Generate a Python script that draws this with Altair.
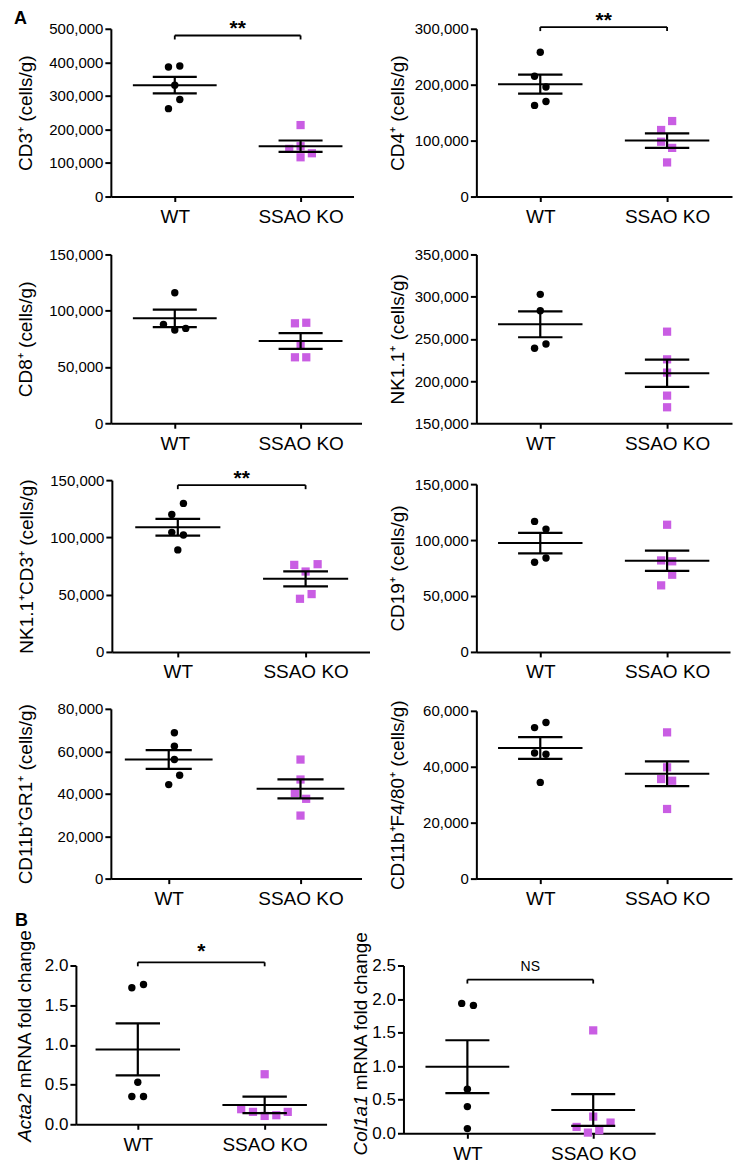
import altair as alt
import pandas as pd

FONT = "Liberation Sans, Arial, Helvetica, sans-serif"
PINK = "#C95DE3"
GROUPS = ["WT", "SSAO KO"]

# ---------------- data ----------------
CD3_WT = [386000, 389000, 332000, 289000, 262000]
CD3_WT_DX = [-0.05, 0.04, 0.0, 0.04, -0.05]
CD3_KO = [213000, 142000, 150000, 129000, 117000]
CD3_KO_DX = [0.0, -0.09, 0.0, 0.09, 0.0]
CD3_MEAN = [332000, 150000]
CD3_SEM = [24500, 17000]

CD4_WT = [258000, 215000, 196000, 163000, 170000]
CD4_WT_DX = [0.0, -0.045, 0.045, -0.045, 0.045]
CD4_KO = [135000, 119000, 98000, 87000, 61000]
CD4_KO_DX = [0.04, -0.047, -0.047, 0.04, 0.0]
CD4_MEAN = [201000, 100000]
CD4_SEM = [17000, 13000]

CD8_WT = [116000, 87900, 82800, 84300]
CD8_WT_DX = [0.0, -0.09, 0.0, 0.087]
CD8_KO = [88800, 89300, 69700, 58600, 58600]
CD8_KO_DX = [-0.045, 0.045, 0.0, -0.045, 0.045]
CD8_MEAN = [93200, 73000]
CD8_SEM = [7850, 7000]

NK_WT = [302700, 283300, 238800, 243900]
NK_WT_DX = [0.0, 0.0, -0.045, 0.045]
NK_KO = [258500, 225700, 210000, 182700, 168900]
NK_KO_DX = [0.0, 0.0, 0.0, 0.0, 0.0]
NK_MEAN = [267200, 209200]
NK_SEM = [15300, 16200]

NKT_WT = [129700, 120100, 104400, 102100, 89100]
NKT_WT_DX = [0.044, -0.047, -0.047, 0.044, 0.0]
NKT_KO = [76000, 76600, 70200, 46400, 50500]
NKT_KO_DX = [-0.089, 0.094, 0.0, -0.044, 0.047]
NKT_MEAN = [108800, 63800]
NKT_SEM = [7300, 6500]

CD19_WT = [116700, 109800, 80100, 83900]
CD19_WT_DX = [-0.045, 0.045, -0.045, 0.045]
CD19_KO = [113700, 81800, 81000, 69000, 59500]
CD19_KO_DX = [0.0, -0.047, 0.04, 0.04, -0.047]
CD19_MEAN = [97300, 81500]
CD19_SEM = [9200, 9000]

GR1_WT = [68700, 62400, 56100, 48700, 44300]
GR1_WT_DX = [0.043, 0.043, 0.043, 0.083, 0.0]
GR1_KO = [56100, 46700, 40400, 37600, 29700]
GR1_KO_DX = [0.0, 0.0, -0.043, 0.043, 0.0]
GR1_MEAN = [56100, 42300]
GR1_SEM = [4400, 4500]

F480_WT = [54000, 55800, 44900, 44500, 34400]
F480_WT_DX = [-0.045, 0.045, -0.045, 0.045, 0.0]
F480_KO = [52300, 39800, 35600, 35000, 24900]
F480_KO_DX = [0.0, 0.0, -0.047, 0.04, 0.0]
F480_MEAN = [46700, 37500]
F480_SEM = [3900, 4450]

ACTA2_WT = [1.72, 1.76, 0.53, 0.35, 0.35]
ACTA2_WT_DX = [-0.047, 0.045, 0.0, -0.047, 0.045]
ACTA2_KO = [0.63, 0.19, 0.156, 0.105, 0.114, 0.156]
ACTA2_KO_DX = [0.0, -0.185, -0.092, 0.0, 0.092, 0.182]
ACTA2_MEAN = [0.943, 0.244]
ACTA2_SEM = [0.327, 0.103]

COL_WT = [1.935, 1.905, 0.655, 0.397, 0.069]
COL_WT_DX = [-0.045, 0.048, 0.0, 0.0, 0.0]
COL_KO = [1.533, 0.248, 0.094, 0.159, 0.01, 0.045]
COL_KO_DX = [0.0, 0.0, -0.132, 0.138, -0.042, 0.048]
COL_MEAN = [0.992, 0.347]
COL_SEM = [0.394, 0.236]

# tick labels
TICKS_CD3 = [0, 100000, 200000, 300000, 400000, 500000]
TICKS_CD4 = [0, 100000, 200000, 300000]
TICKS_150 = [0, 50000, 100000, 150000]
TICKS_NK = [150000, 200000, 250000, 300000, 350000]
TICKS_80 = [0, 20000, 40000, 60000, 80000]
TICKS_60 = [0, 20000, 40000, 60000]
TICKS_2 = [0, 0.5, 1.0, 1.5, 2.0]
TICKS_25 = [0, 0.5, 1.0, 1.5, 2.0, 2.5]

# significance brackets
SIG_LABELS = ["**", "**", "**", "*", "NS"]
SIG_Y = [480000, 303000, 145600, 2.04, 2.29]

MEAN_HALF = 0.333
CAP_HALF = 0.175


def panel(title, wt, wt_dx, ko, ko_dx, mean, sem, ticks, fmt, ydom, lay,
          sig=None, extra=None, tick_font=15):
    pts = pd.DataFrame({
        "grp": [GROUPS[0]] * len(wt) + [GROUPS[1]] * len(ko),
        "g": [1] * len(wt) + [2] * len(ko),
        "dx": list(wt_dx) + list(ko_dx),
        "v": list(wt) + list(ko),
    })
    summ = pd.DataFrame({"grp": GROUPS, "g": [1, 2], "mean": mean, "sem": sem})
    xs = alt.Scale(domain=lay["xdom"], range=lay["xrange"], nice=False, zero=False)
    ys = alt.Scale(domain=ydom, range=lay["yrange"], nice=False, zero=False)
    xaxis = alt.Axis(values=[1, 2], title=None, grid=False, labelFlush=False,
                     labelExpr="datum.value == 1 ? 'WT' : 'SSAO KO'")
    yaxis = alt.Axis(values=ticks, format=fmt, title=title, grid=False,
                     labelFlush=False, offset=lay["yoff"],
                     minExtent=lay["ext"], maxExtent=lay["ext"],
                     titlePadding=lay["tp"], labelFontSize=tick_font)

    def X(f):
        return alt.X(f, type="quantitative", scale=xs, axis=xaxis)

    def Y(f):
        return alt.Y(f, type="quantitative", scale=ys, axis=yaxis)

    base_pts = alt.Chart(pts).transform_calculate(xp="datum.g + datum.dx")
    wt_layer = base_pts.transform_filter("datum.g == 1").mark_circle(
        size=55, color="black", opacity=1).encode(x=X("xp"), y=Y("v"))
    ko_layer = base_pts.transform_filter("datum.g == 2").mark_square(
        size=68, color=PINK, opacity=1).encode(x=X("xp"), y=Y("v"))

    sb = alt.Chart(summ).transform_calculate(
        m1=f"datum.g - {MEAN_HALF}", m2=f"datum.g + {MEAN_HALF}",
        c1=f"datum.g - {CAP_HALF}", c2=f"datum.g + {CAP_HALF}",
        hi="datum.mean + datum.sem", lo="datum.mean - datum.sem")
    mean_l = sb.mark_rule(color="black", strokeWidth=2).encode(
        x=X("m1"), x2="m2:Q", y=Y("mean"))
    cap_hi = sb.mark_rule(color="black", strokeWidth=2.2).encode(
        x=X("c1"), x2="c2:Q", y=Y("hi"))
    cap_lo = sb.mark_rule(color="black", strokeWidth=2.2).encode(
        x=X("c1"), x2="c2:Q", y=Y("lo"))
    vert = sb.mark_rule(color="black", strokeWidth=2.2).encode(
        x=X("g"), y=Y("lo"), y2="hi:Q")

    layers = [wt_layer, ko_layer, mean_l, cap_hi, cap_lo, vert]

    if sig is not None:
        lab, yv, dy, fsize, fweight = sig
        bdf = pd.DataFrame({"g": [1, 2], "y": [yv, yv], "label": [lab, lab]})
        bb = alt.Chart(bdf)
        hline = bb.transform_aggregate(
            g1="min(g)", g2="max(g)", y="mean(y)").mark_rule(
            color="black", strokeWidth=1.8).encode(
            x=X("g1"), x2="g2:Q", y=Y("y"))
        ends = bb.mark_rule(color="black", strokeWidth=1.8, y2Offset=4).encode(
            x=X("g"), y=Y("y"), y2="y:Q")
        txt = bb.transform_aggregate(
            gm="mean(g)", y="mean(y)", label="min(label)").mark_text(
            font=FONT, fontSize=fsize, fontWeight=fweight, color="black",
            baseline="alphabetic", align="center", dy=dy).encode(
            x=X("gm"), y=Y("y"), text="label:N")
        layers += [hline, ends, txt]

    if extra:
        layers += extra

    return alt.layer(*layers).properties(width=lay["w"], height=lay["h"])


def letter(t, x, y):
    return alt.Chart(pd.DataFrame({"t": [t]})).mark_text(
        font=FONT, fontSize=18, fontWeight="bold", color="black",
        align="left", baseline="alphabetic").encode(
        x=alt.value(x), y=alt.value(y), text="t:N")


def split_title(italic, rest, x, y_join):
    a = alt.Chart(pd.DataFrame({"t": [italic]})).mark_text(
        font=FONT, fontSize=19, fontStyle="italic", color="black",
        angle=270, align="right", baseline="bottom").encode(
        x=alt.value(x), y=alt.value(y_join), text="t:N")
    b = alt.Chart(pd.DataFrame({"t": [rest]})).mark_text(
        font=FONT, fontSize=19, color="black", dx=5,
        angle=270, align="left", baseline="bottom").encode(
        x=alt.value(x), y=alt.value(y_join), text="t:N")
    return [a, b]


def L(xrange, xdom, h, yrange, yoff, ext, tp, w):
    return dict(xrange=xrange, xdom=xdom, h=h, yrange=yrange, yoff=yoff,
                ext=ext, tp=tp, w=w)

WL, WR = 294, 329
lay1 = L([35, 278], [0.492, 2.421], 168, [168, 0], -35, 62, 13, WL)
lay2 = L([73, 329], [0.496, 2.512], 168, [168, 0], -73, 62, 7, WR)
lay3 = L([35, 286], [0.492, 2.484], 170, [170, 1], -35, 62, 13, WL)
lay4 = L([73, 329], [0.496, 2.512], 170, [170, 1], -73, 62, 7, WR)
lay5 = L([36, 294], [0.484, 2.5], 172, [172, 0], -36, 62, 13, WL)
lay6 = L([73, 327], [0.496, 2.496], 172, [172, 4], -73, 62, 7, WR)
lay7 = L([35, 286], [0.561, 2.463], 170, [170, 0], -35, 62, 13, WL)
lay8 = L([73, 329], [0.496, 2.512], 170, [170, 2], -73, 62, 7, WR)
lay9 = L([0, 251], [0.512, 2.488], 189, [189, 30], 0, 34, 6, WL)
lay10 = L([0, 252], [0.492, 2.492], 198, [198, 30], 0, 30, 6, WR)

NUM = ",.0f"
p1 = panel("CD3⁺ (cells/g)", CD3_WT, CD3_WT_DX, CD3_KO, CD3_KO_DX, CD3_MEAN, CD3_SEM,
           TICKS_CD3, NUM, [0, 500000], lay1,
           sig=(SIG_LABELS[0], SIG_Y[0], 0, 21, "bold"), extra=[letter("A", -62, -5)])
p2 = panel("CD4⁺ (cells/g)", CD4_WT, CD4_WT_DX, CD4_KO, CD4_KO_DX, CD4_MEAN, CD4_SEM,
           TICKS_CD4, NUM, [0, 300000], lay2,
           sig=(SIG_LABELS[1], SIG_Y[1], 0, 21, "bold"))
p3 = panel("CD8⁺ (cells/g)", CD8_WT, CD8_WT_DX, CD8_KO, CD8_KO_DX, CD8_MEAN, CD8_SEM,
           TICKS_150, NUM, [0, 150000], lay3)
p4 = panel("NK1.1⁺ (cells/g)", NK_WT, NK_WT_DX, NK_KO, NK_KO_DX, NK_MEAN, NK_SEM,
           TICKS_NK, NUM, [150000, 350000], lay4)
p5 = panel("NK1.1⁺CD3⁺ (cells/g)", NKT_WT, NKT_WT_DX, NKT_KO, NKT_KO_DX, NKT_MEAN, NKT_SEM,
           TICKS_150, NUM, [0, 150000], lay5,
           sig=(SIG_LABELS[2], SIG_Y[2], 0, 21, "bold"))
p6 = panel("CD19⁺ (cells/g)", CD19_WT, CD19_WT_DX, CD19_KO, CD19_KO_DX, CD19_MEAN, CD19_SEM,
           TICKS_150, NUM, [0, 150000], lay6)
p7 = panel("CD11b⁺GR1⁺ (cells/g)", GR1_WT, GR1_WT_DX, GR1_KO, GR1_KO_DX, GR1_MEAN, GR1_SEM,
           TICKS_80, NUM, [0, 80000], lay7)
p8 = panel("CD11b⁺F4/80⁺ (cells/g)", F480_WT, F480_WT_DX, F480_KO, F480_KO_DX, F480_MEAN,
           F480_SEM, TICKS_60, NUM, [0, 60000], lay8)
p9 = panel(None, ACTA2_WT, ACTA2_WT_DX, ACTA2_KO, ACTA2_KO_DX, ACTA2_MEAN, ACTA2_SEM,
           TICKS_2, ".1f", [0, 2.0], lay9,
           sig=(SIG_LABELS[3], SIG_Y[3], -4, 21, "bold"),
           extra=[letter("B", -61, -10)]
           + split_title("Acta2", "mRNA fold change", -41, 158),
           tick_font=17)
p10 = panel(None, COL_WT, COL_WT_DX, COL_KO, COL_KO_DX, COL_MEAN, COL_SEM,
            TICKS_25, ".1f", [0, 2.5], lay10,
            sig=(SIG_LABELS[4], SIG_Y[4], -9, 14, "normal"),
            extra=split_title("Col1a1", "mRNA fold change", -33, 160),
            tick_font=17)

chart = alt.concat(p1, p2, p3, p4, p5, p6, p7, p8, p9, p10,
                   columns=2, spacing={"row": 57, "column": 34},
                   bounds="flush", align="each").properties(
    padding={"left": 6, "top": 1, "right": 5, "bottom": 5}
).configure_axis(
    domainColor="black", domainWidth=2, tickColor="black", tickWidth=2,
    labelColor="black", titleColor="black", labelFont=FONT, titleFont=FONT,
    titleFontWeight="normal", titleFontSize=19, grid=False
).configure_axisX(
    tickSize=5, labelPadding=6, labelFontSize=19
).configure_axisY(
    tickSize=6, labelPadding=2
).configure_view(stroke=None)

chart.save("out.html", embed_options={"renderer": "svg", "actions": False})
